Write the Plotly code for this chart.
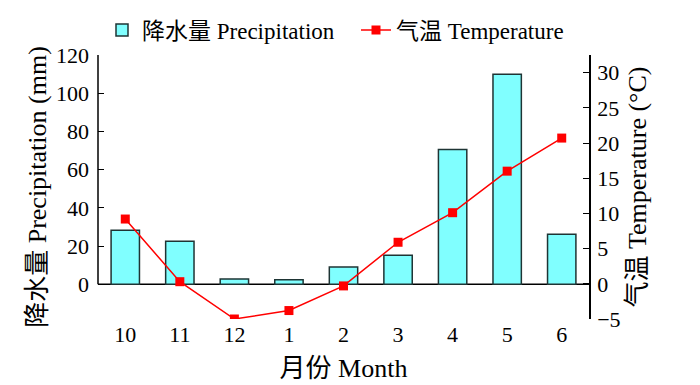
import plotly.graph_objects as go

months = ["10", "11", "12", "1", "2", "3", "4", "5", "6"]
precip = [28.3, 22.5, 2.8, 2.4, 9.0, 15.2, 70.6, 109.9, 26.2]
temp = [9.2, 0.3, -5.0, -3.8, -0.3, 5.9, 10.1, 16.0, 20.7]
left_ticks = [0, 20, 40, 60, 80, 100, 120]
right_ticks = [-5, 0, 5, 10, 15, 20, 25, 30]

FONT = "Liberation Serif, 'Times New Roman', 'Noto Sans CJK SC', serif"

fig = go.Figure()
fig.add_trace(go.Bar(
    x=months, y=precip, name="降水量 Precipitation",
    marker=dict(color="#80FFFF", line=dict(color="#1e3434", width=1.5)),
    width=0.52, yaxis="y", legend="legend",
))
fig.add_trace(go.Scatter(
    x=months, y=temp, name="气温 Temperature", mode="lines+markers",
    line=dict(color="#FF0000", width=1.5),
    marker=dict(symbol="square", size=9, color="#FF0000"),
    yaxis="y2", legend="legend2",
))

leg_common = dict(orientation="h", yref="container", y=0.922, yanchor="middle",
                  xref="container", xanchor="left",
                  font=dict(size=23), bgcolor="rgba(0,0,0,0)", itemwidth=30)

fig.update_layout(
    width=700, height=385,
    margin=dict(l=98, r=111, t=55, b=66, autoexpand=False),
    paper_bgcolor="white", plot_bgcolor="white",
    font=dict(family=FONT, size=22, color="black"),
    showlegend=True,
    legend=dict(x=102 / 700, **leg_common),
    legend2=dict(x=356 / 700, **leg_common),
    xaxis=dict(type="category", categoryorder="array", categoryarray=months,
               range=[-0.5, 8.5], showline=False, ticks="", showgrid=False, zeroline=False,
               automargin=False,
               title=dict(text="月份 Month", standoff=12), tickfont=dict(size=22)),
    yaxis=dict(range=[-18.16, 120], tickvals=left_ticks, ticks="inside", ticklen=6,
               tickcolor="black", showline=False, showgrid=False, zeroline=False,
               automargin=False, ticklabelstandoff=8,
               title=dict(text="降水量 Precipitation (mm)", standoff=1)),
    yaxis2=dict(range=[-5, 32.5], tickvals=right_ticks, ticks="inside", ticklen=6,
                tickcolor="black", overlaying="y", side="right", showline=True,
                linecolor="black", linewidth=1.5, showgrid=False, zeroline=False,
                automargin=False, ticklabelstandoff=2,
                title=dict(text="气温 Temperature (°C)", standoff=8)),
    shapes=[
        dict(type="line", xref="paper", yref="y", x0=0, x1=0, y0=0, y1=120,
             line=dict(color="black", width=1.5)),
        dict(type="line", xref="paper", yref="y", x0=0, x1=1, y0=0, y1=0,
             line=dict(color="black", width=1.5), layer="below"),
    ],
)

fig.write_html("out.html", config={"displayModeBar": False},
               post_script="document.body.style.margin='0';")
